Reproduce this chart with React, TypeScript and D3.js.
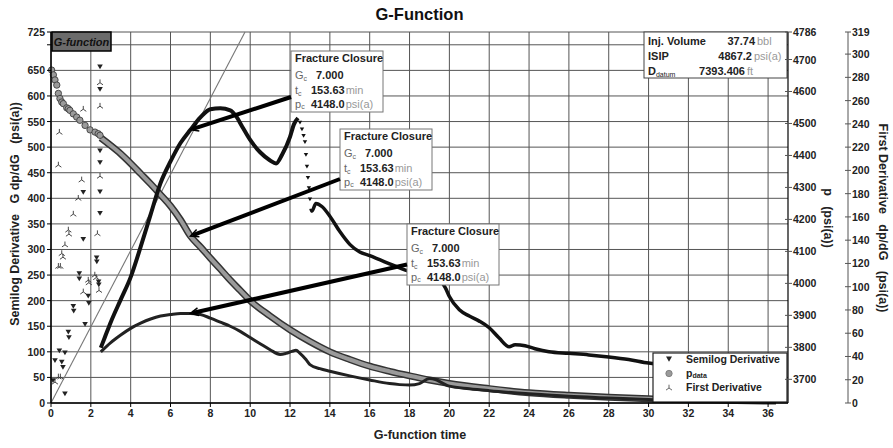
import React from "react";
import * as d3 from "d3";

// ---------- data ----------
const pEarlyG = [0.03, 0.12, 0.2, 0.29, 0.37, 0.45, 0.54, 0.62, 0.79, 0.87, 0.95, 1.12, 1.29, 1.45, 1.71, 1.96, 2.21, 2.37, 2.46];
const pEarlyVal = [4667, 4652, 4636, 4620, 4594, 4578, 4567, 4562, 4549, 4546, 4541, 4530, 4520, 4510, 4494, 4480, 4473, 4468, 4463];

const pG = [2.5, 3, 3.5, 4, 4.5, 5, 5.5, 6, 6.5, 7, 7.5, 8, 8.5, 9, 9.5, 10, 11, 12, 13, 14, 15, 16, 17, 18, 19, 20, 22, 24, 26, 28, 30, 33, 36.4];
const pVal = [4455, 4431, 4405, 4375, 4343, 4311, 4277, 4242, 4199, 4148, 4114, 4079, 4045, 4010, 3978, 3946, 3898, 3855, 3818, 3786, 3762, 3741, 3725, 3711, 3698, 3687, 3671, 3658, 3650, 3644, 3639, 3635, 3632];

const semiG1 = [2.5, 2.7, 3, 3.5, 4, 4.5, 5, 5.5, 6, 6.5, 7, 7.5, 8, 8.5, 9, 9.3, 9.6, 10, 10.5, 11, 11.3, 11.6, 12, 12.2, 12.4];
const semiVal1 = [108, 128, 158, 202, 246, 305, 368, 430, 472, 508, 534, 558, 574, 576, 572, 560, 540, 514, 490, 474, 468, 485, 520, 545, 557];
const semiSparseG = [12.5, 12.6, 12.68, 12.75, 12.8, 12.85, 12.9, 12.95, 13.0];
const semiSparseVal = [548, 535, 522, 510, 485, 462, 440, 420, 398];
const semiG2 = [13.05, 13.1, 13.3, 13.6, 14, 14.5, 15, 15.5, 16, 16.5, 17, 17.5, 18, 18.5, 19, 19.5, 19.8, 20, 20.5, 21, 21.5, 22, 22.5, 23, 23.3, 23.8, 24.3, 25, 26, 27, 28, 29, 30, 32, 34, 36.4];
const semiVal2 = [380, 375, 390, 384, 365, 335, 310, 295, 288, 280, 272, 264, 257, 252, 248, 240, 225, 208, 182, 170, 160, 147, 127, 110, 114, 112, 106, 100, 97, 94, 90, 85, 78, 72, 68, 64];

const semiEarlyG = [0.1, 0.2, 0.42, 0.54, 0.6, 0.7, 0.7, 0.87, 0.9, 1.12, 1.14, 1.42, 1.42, 1.62, 1.62, 1.71, 1.87, 1.9, 2.29, 2.3, 2.39, 2.4, 2.46, 2.46, 2.46, 2.46, 2.46, 2.46];
const semiEarlyVal = [44, 83, 102, 80, 70, 18, 98, 139, 128, 189, 180, 253, 243, 320, 412, 154, 209, 195, 284, 276, 237, 231, 657, 613, 493, 470, 413, 371];

const fdG = [2.5, 3, 3.5, 4, 4.5, 5, 5.5, 6, 6.5, 7, 7.5, 8, 8.5, 9, 9.5, 10, 10.5, 11, 11.5, 11.8, 12.1, 12.3, 12.5, 12.8, 13, 13.5, 14, 15, 16, 17, 17.5, 18, 18.5, 19, 19.3, 19.7, 20, 21, 22, 24, 26, 28, 30, 33, 36.4];
const fdVal = [44, 52, 58.5, 64.2, 68.6, 72.2, 74.8, 76.1, 77, 77, 76.1, 73, 69.5, 66, 61.6, 56.3, 51, 45.8, 41.8, 42.7, 44.4, 45.3, 42.7, 37.4, 33, 29.5, 27.3, 23.3, 19.8, 16.7, 15.8, 15.4, 16.7, 21.1, 20.2, 16.7, 14.5, 12.3, 10.6, 7.9, 5.7, 4.4, 3.1, 2.2, 1.8];

const fdEarlyG = [0.2, 0.37, 0.47, 0.37, 0.47, 0.54, 0.6, 0.7, 0.87, 0.9, 1.62, 1.87, 1.9, 2.33, 2.2, 2.27, 2.41, 0.37, 0.42, 1.62, 2.46, 2.46, 2.46, 1.54, 1.37, 1.12];
const fdEarlyVal = [18, 22.4, 22.4, 117.5, 117.5, 128.5, 125.4, 136, 148.7, 145.2, 95.5, 105.6, 103.4, 145.6, 110, 107.8, 96.8, 204.6, 232.8, 252.6, 275.4, 255.2, 195, 191.8, 176, 162.4];

const tangentG = [0, 9.74];
const tangentVal = [0, 725];

const closureG = 7;
const closureSemi = 534;
const closureP = 4148;
const closureFD = 77;

const xTicks = d3.range(0, 37, 2);
const leftTicks = [0, 50, 100, 150, 200, 250, 300, 350, 400, 450, 500, 550, 600, 650, 725];
const leftGrid = d3.range(0, 701, 50);
const pTicks = [3700, 3800, 3900, 4000, 4100, 4200, 4300, 4400, 4500, 4600, 4700, 4786];
const fdTicks = [0, 20, 40, 60, 80, 100, 120, 140, 160, 180, 200, 220, 240, 260, 280, 300, 319];

const infoLabels = ["Inj. Volume", "ISIP", "D"];
const infoValues = ["37.74", "4867.2", "7393.406"];
const infoUnits = ["bbl", "psi(a)", "ft"];

// ---------- layout ----------
const W = 893, H = 448;
const X0 = 51, X1 = 788, YT = 32, YB = 403;
const FONT = "'Liberation Sans', Arial, sans-serif";

const x = d3.scaleLinear().domain([0, 37]).range([X0, X1]);
const yL = d3.scaleLinear().domain([0, 725]).range([YB, YT]);
const yP = d3.scaleLinear().domain([3626, 4786]).range([YB, YT]);
const yR = d3.scaleLinear().domain([0, 319]).range([YB, YT]);

function linePath(gs: number[], vs: number[], y: (v: number) => number) {
  const l = d3.line<number>().x((_, i) => x(gs[i])).y((v) => y(v)).curve(d3.curveMonotoneX);
  return l(vs) || "";
}

function triDown(cx: number, cy: number, s = 3) {
  return `M${cx - s},${cy - s * 0.8}L${cx + s},${cy - s * 0.8}L${cx},${cy + s * 0.9}Z`;
}
function triSpoke(cx: number, cy: number, s = 3) {
  return `M${cx},${cy}v${-s * 1.1}M${cx},${cy}l${-s},${s * 0.7}M${cx},${cy}l${s},${s * 0.7}`;
}

function ClosureBox({ bx, by, tipX, tipY, ox, oy }: any) {
  const w = 92, h = 61;
  const ang = Math.atan2(oy - tipY, ox - tipX);
  const a = 0.45, L = 9;
  const h1 = [tipX + L * Math.cos(ang + a), tipY + L * Math.sin(ang + a)];
  const h2 = [tipX + L * Math.cos(ang - a), tipY + L * Math.sin(ang - a)];
  return (
    <g fontFamily={FONT}>
      <rect x={bx} y={by} width={w} height={h} fill="#fff" stroke="#777" strokeWidth={1} />
      <text x={bx + 4} y={by + 10.5} fontSize={11} fontWeight="bold" fill="#222">Fracture Closure</text>
      <text x={bx + 4} y={by + 28} fontSize={11} fill="#666">G<tspan fontSize={7} dy={2}>c</tspan></text>
      <text x={bx + 25} y={by + 28} fontSize={11} fontWeight="bold" fill="#222">7.000</text>
      <text x={bx + 4} y={by + 42.5} fontSize={11} fill="#666">t<tspan fontSize={7} dy={2}>c</tspan></text>
      <text x={bx + 20} y={by + 42.5} fontSize={11} fontWeight="bold" fill="#222">153.63<tspan fontWeight="normal" fill="#999" dx={1}>min</tspan></text>
      <text x={bx + 4} y={by + 57} fontSize={11} fill="#666">p<tspan fontSize={7} dy={1}>c</tspan></text>
      <text x={bx + 20} y={by + 57} fontSize={11} fontWeight="bold" fill="#222">4148.0<tspan fontWeight="normal" fill="#999" dx={1}>psi(a)</tspan></text>
      <line x1={ox} y1={oy} x2={tipX + 2 * Math.cos(ang)} y2={tipY + 2 * Math.sin(ang)} stroke="#000" strokeWidth={4} />
      <polyline points={`${h1[0]},${h1[1]} ${tipX},${tipY} ${h2[0]},${h2[1]}`} fill="none" stroke="#000" strokeWidth={1.5} />
    </g>
  );
}

export default function App() {
  const tipX = x(closureG);
  return (
    <svg width={W} height={H} style={{ position: "absolute", left: 0, top: 0, background: "#fff" }} fontFamily={FONT}>
      <rect x={0} y={0} width={W} height={H} fill="#fff" />
      {/* title */}
      <text x={(X0 + X1) / 2} y={20} textAnchor="middle" fontSize={16.5} fontWeight="bold" fill="#111">G-Function</text>

      {/* grid */}
      <g stroke="#555" strokeWidth={1}>
        {leftGrid.map((v) => (
          <line key={"h" + v} x1={X0} x2={X1} y1={yL(v)} y2={yL(v)} />
        ))}
        <line x1={X0} x2={X1} y1={YT} y2={YT} />
        {xTicks.map((v) => (
          <line key={"v" + v} x1={x(v)} x2={x(v)} y1={YT} y2={YB} />
        ))}
      </g>

      {/* tangent line */}
      <path d={linePath(tangentG, tangentVal, yL)} fill="none" stroke="#777" strokeWidth={1.1} />

      {/* p data band */}
      <path d={linePath(pG, pVal, yP)} fill="none" stroke="#333" strokeWidth={7} />
      <path d={linePath(pG, pVal, yP)} fill="none" stroke="#9a9a9a" strokeWidth={4} />
      {pEarlyG.map((g, i) => (
        <circle key={"pe" + i} cx={x(g)} cy={yP(pEarlyVal[i])} r={3.2} fill="#9a9a9a" stroke="#333" strokeWidth={0.8} />
      ))}

      {/* first derivative */}
      <path d={linePath(fdG, fdVal, yR)} fill="none" stroke="#222" strokeWidth={3} />
      {fdEarlyG.map((g, i) => (
        <path key={"fe" + i} d={triSpoke(x(g), yR(fdEarlyVal[i]))} stroke="#333" strokeWidth={0.9} fill="none" />
      ))}

      {/* semilog derivative */}
      <path d={linePath(semiG1, semiVal1, yL)} fill="none" stroke="#111" strokeWidth={4} />
      {semiSparseG.map((g, i) => (
        <path key={"ss" + i} d={triDown(x(g), yL(semiSparseVal[i]), 2.2)} fill="#111" />
      ))}
      <path d={linePath(semiG2, semiVal2, yL)} fill="none" stroke="#111" strokeWidth={3.5} />
      {semiEarlyG.map((g, i) => (
        <path key={"se" + i} d={triDown(x(g), yL(semiEarlyVal[i]), 2.8)} fill="#222" />
      ))}

      {/* G-function label */}
      <rect x={52} y={32} width={59} height={19} fill="#6b6b6b" stroke="#000" strokeWidth={1.5} />
      <text x={81.5} y={45.5} textAnchor="middle" fontSize={11} fontWeight="bold" fontStyle="italic" fill="#111">G-function</text>

      {/* closure annotations */}
      <ClosureBox bx={291} by={51} tipX={tipX} tipY={yL(closureSemi)} ox={291} oy={97} />
      <ClosureBox bx={340} by={129} tipX={tipX} tipY={yP(closureP)} ox={340} oy={179} />
      <ClosureBox bx={407} by={224} tipX={tipX} tipY={yR(closureFD)} ox={407} oy={264.5} />

      {/* info box */}
      <g fontFamily={FONT} fontSize={11}>
        <rect x={644} y={32} width={143} height={46} fill="#fff" stroke="#444" strokeWidth={1} />
        {infoLabels.map((lab, i) => (
          <text key={"il" + i} x={648} y={45 + i * 15} fontWeight="bold" fill="#222">
            {lab}
            {i === 2 ? <tspan fontSize={7} dy={2} fontWeight="normal">datum</tspan> : null}
          </text>
        ))}
        {infoValues.map((v, i) => (
          <text key={"iv" + i} x={[755, 752, 745][i]} y={45 + i * 15} textAnchor="end" fontWeight="bold" fill="#222">{v}</text>
        ))}
        {infoUnits.map((u, i) => (
          <text key={"iu" + i} x={[757, 754, 747][i]} y={45 + i * 15} fill="#999">{u}</text>
        ))}
      </g>

      {/* legend */}
      <g fontFamily={FONT}>
        <rect x={653} y={353} width={134} height={49} fill="#fff" stroke="#222" strokeWidth={1.2} />
        <path d={triDown(669, 359, 3)} fill="#222" />
        <text x={686} y={363} fontSize={10.5} fontWeight="bold" fill="#222">Semilog Derivative</text>
        <circle cx={669} cy={373.5} r={3.2} fill="#9a9a9a" stroke="#777" strokeWidth={0.8} />
        <text x={686} y={377} fontSize={10.5} fontWeight="bold" fill="#222">p<tspan fontSize={7} dy={1}>data</tspan></text>
        <path d={triSpoke(669, 388, 3)} stroke="#555" strokeWidth={0.9} fill="none" />
        <text x={686} y={391} fontSize={10.5} fontWeight="bold" fill="#222">First Derivative</text>
      </g>

      {/* axes */}
      <g stroke="#000">
        <line x1={X0} x2={X0} y1={YT} y2={YB} strokeWidth={1.5} />
        <line x1={X0} x2={X1} y1={YB} y2={YB} strokeWidth={1.5} />
        <line x1={X1} x2={X1} y1={YT} y2={YB} strokeWidth={1.2} />
        <line x1={848} x2={848} y1={YT} y2={YB} strokeWidth={1} stroke="#555" />
        {leftGrid.concat([725]).map((v) => (
          <line key={"lt" + v} x1={47} x2={X0} y1={yL(v)} y2={yL(v)} strokeWidth={1} />
        ))}
        {xTicks.map((v) => (
          <line key={"xt" + v} x1={x(v)} x2={x(v)} y1={YB} y2={YB + 4} strokeWidth={1} />
        ))}
        {pTicks.map((v) => (
          <line key={"pt" + v} x1={X1 - 3} x2={X1 + 4} y1={yP(v)} y2={yP(v)} strokeWidth={1} stroke="#555" />
        ))}
        {fdTicks.map((v) => (
          <line key={"ft" + v} x1={845} x2={851} y1={yR(v)} y2={yR(v)} strokeWidth={1} stroke="#555" />
        ))}
      </g>
      <g fontFamily={FONT} fontSize={10.5} fontWeight="bold" fill="#222">
        {leftTicks.map((v) => (
          <text key={"ll" + v} x={45} y={yL(v) + 4} textAnchor="end">{v}</text>
        ))}
        {xTicks.map((v) => (
          <text key={"xl" + v} x={x(v)} y={417} textAnchor="middle">{v}</text>
        ))}
        {pTicks.map((v) => (
          <text key={"pl" + v} x={X1 + 5} y={yP(v) + 4}>{v}</text>
        ))}
        {fdTicks.map((v) => (
          <text key={"fl" + v} x={852} y={yR(v) + 4}>{v}</text>
        ))}
      </g>

      {/* axis titles */}
      <text x={420} y={439} textAnchor="middle" fontSize={12.5} fontWeight="bold" fill="#222">G-function time</text>
      <text transform="translate(19,214) rotate(-90)" textAnchor="middle" fontSize={12.5} fontWeight="bold" fill="#222" style={{ whiteSpace: "pre" }}>
        {"Semilog Derivative   G dp/dG   (psi(a))"}
      </text>
      <text transform="translate(824,218) rotate(90)" textAnchor="middle" fontSize={12.5} fontWeight="bold" fill="#222" style={{ whiteSpace: "pre" }}>
        {"p   (psi(a))"}
      </text>
      <text transform="translate(879,218) rotate(90)" textAnchor="middle" fontSize={12.5} fontWeight="bold" fill="#222" style={{ whiteSpace: "pre" }}>
        {"First Derivative   dp/dG   (psi(a))"}
      </text>
    </svg>
  );
}
